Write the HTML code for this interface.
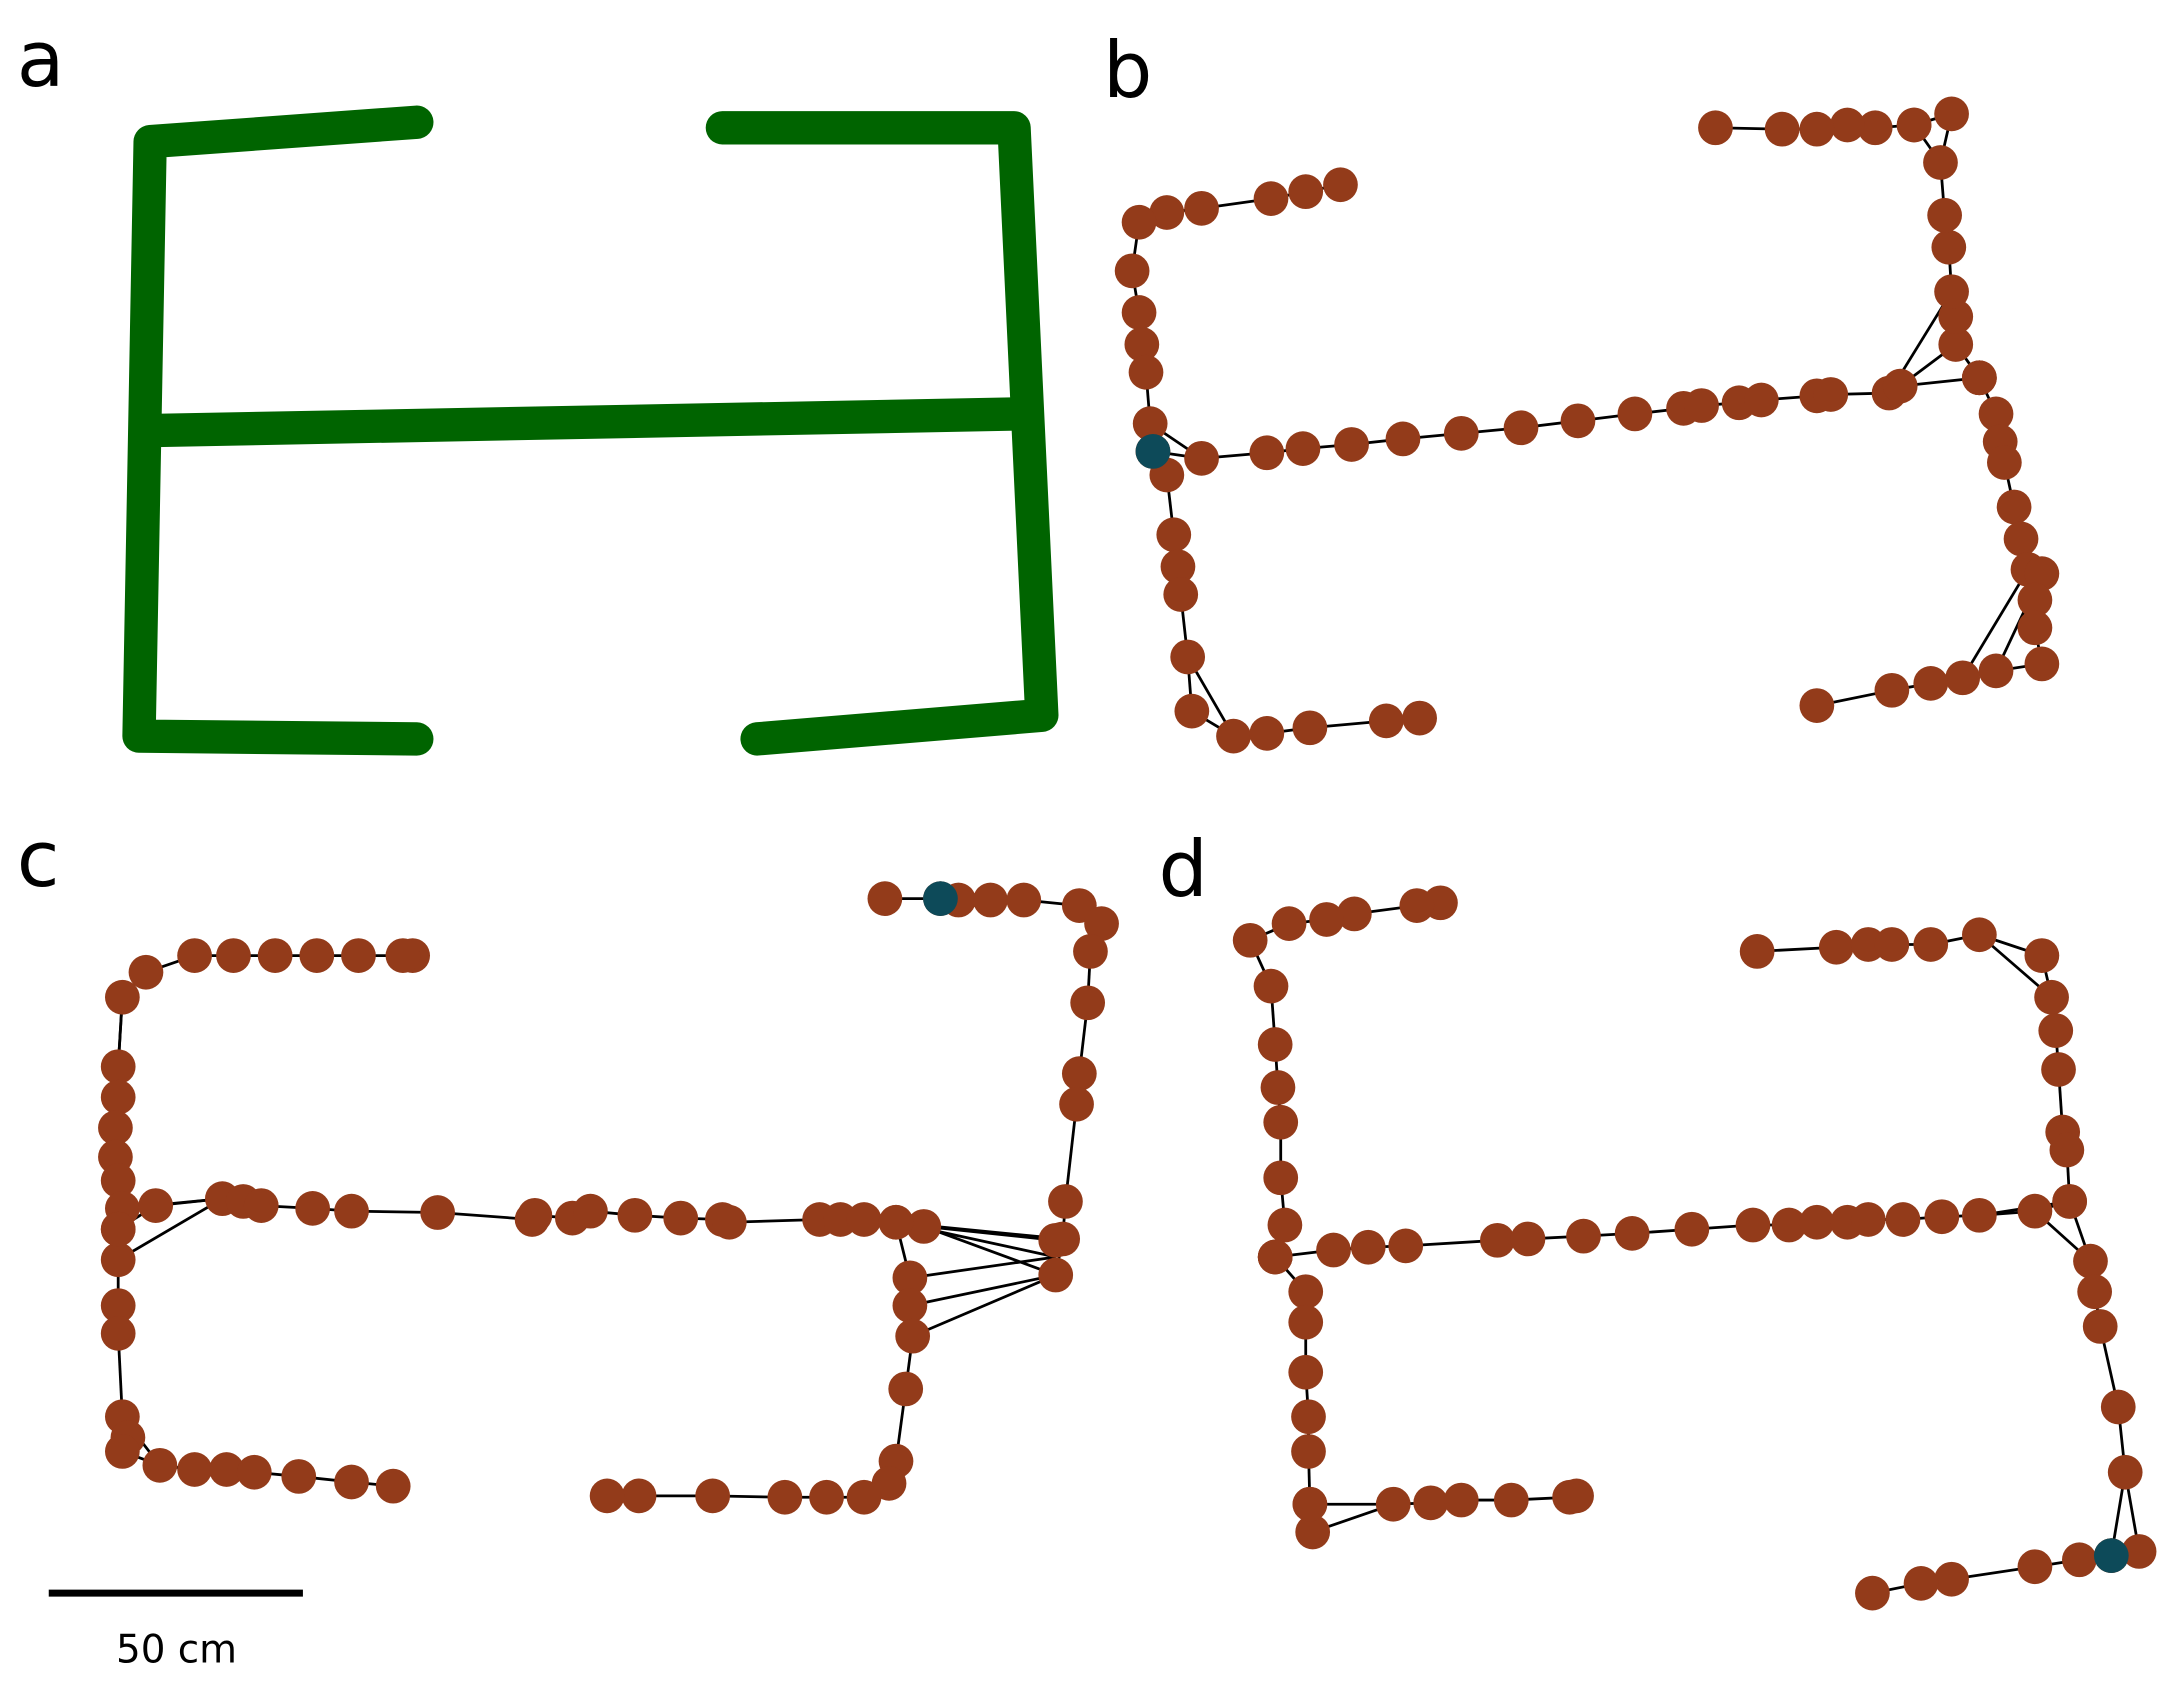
<!DOCTYPE html>
<html><head><meta charset="utf-8"><style>
html,body{margin:0;padding:0;background:#fff}
svg{display:block}
text{font-family:"DejaVu Sans","Liberation Sans",sans-serif}
</style></head><body>
<svg id="fig" width="2167" height="1682" viewBox="0 0 1560 1211" xmlns="http://www.w3.org/2000/svg">
<g id="pa" fill="none" stroke="#006400" stroke-width="24" stroke-linecap="round" stroke-linejoin="round">
<polyline points="300,88 108,102 100,530 300,532"/>
<polyline points="108,310 735,298"/>
<polyline points="520,92 730,92 750,515 545,532"/>
</g>
<g id="edges" stroke="#000" stroke-width="2" fill="none"></g>
<g id="nodes"></g>
<line x1="35" y1="1147" x2="218" y2="1147" stroke="#000" stroke-width="5"/>
<text x="127" y="1197" font-size="28" text-anchor="middle">50 cm</text>
<text x="12" y="62" font-size="56">a</text>
<text x="794" y="70" font-size="56">b</text>
<text x="12" y="638" font-size="56">c</text>
<text x="834" y="645" font-size="56">d</text>
</svg>
<script>
// chains of node positions (reconstructed graph coordinates)
const chainsB = [
 [[965,133],[940,138],[915,143],[865,150],[840,153],[820,160],[815,195],[820,225],[822,248],[825,268],[828,305],[830,325],[865,330],[912,326],[938,323],[973,320],[1010,316],[1052,312],[1095,308],[1136,303],[1177,298],[1212,294],[1225,292],[1252,290],[1268,288],[1308,285],[1318,284],[1360,283],[1368,278],[1425,272]],
 [[1425,272],[1408,248],[1408,228],[1405,210],[1403,178],[1400,155],[1397,117],[1378,90],[1405,82]],
 [[1378,90],[1350,92],[1330,90],[1308,93],[1283,93],[1235,92]],
 [[1425,272],[1437,298],[1440,318],[1443,333],[1450,365],[1455,388],[1460,410],[1470,413],[1465,432],[1465,452],[1470,478],[1437,483],[1413,488],[1390,492],[1362,497],[1308,508]],
 [[830,325],[840,342],[845,385],[848,408],[850,428],[855,473],[858,512],[888,530],[912,528],[943,524],[998,519],[1022,517]]
];
const chainsC = [
 [[297,688],[290,688],[258,688],[228,688],[198,688],[168,688],[140,688],[105,700],[88,718],[85,768],[85,790],[83,812],[83,833],[85,850],[88,870],[85,885],[85,907],[85,940],[85,960],[88,1020],[92,1035],[88,1045],[115,1055],[140,1058],[163,1058],[183,1060],[215,1063],[253,1067],[283,1070]],
 [[85,885],[112,868],[160,863],[175,865],[188,868],[225,870],[253,872],[315,873],[383,878],[385,875],[412,877],[425,872],[457,875],[490,877],[520,878],[525,880],[590,878],[605,878],[622,878],[645,880],[665,883],[760,893]],
 [[637,647],[677,647],[690,648],[713,648],[737,648],[777,652],[793,665],[785,685],[783,722],[777,773],[775,795],[767,865],[765,892],[760,918]],
 [[645,880],[655,920],[655,940],[657,962],[652,1000],[645,1052],[640,1068],[622,1078],[595,1078],[565,1078],[513,1077],[460,1077],[437,1077]]
];
const chainsD = [
 [[1037,650],[1020,652],[975,658],[955,662],[928,665],[900,677],[915,710],[918,752],[920,783],[922,808],[922,848],[925,882],[918,905]],
 [[918,905],[960,900],[985,898],[1012,897],[1078,893],[1100,892],[1140,890],[1175,888],[1218,885],[1262,882],[1288,882],[1308,880],[1330,880],[1345,878],[1370,878],[1398,876],[1425,875],[1465,872],[1490,865]],
 [[918,905],[940,930],[940,952],[940,988],[942,1020],[942,1045],[943,1083],[945,1103]],
 [[943,1083],[1003,1083],[1030,1082],[1052,1080],[1088,1080],[1130,1078],[1135,1077]],
 [[1265,685],[1322,682],[1345,680],[1362,680],[1390,680],[1425,673],[1470,688],[1477,718],[1480,742],[1482,770],[1485,815],[1488,828],[1490,865],[1505,908],[1508,930],[1512,955],[1525,1013],[1530,1060],[1520,1120]],
 [[1540,1117],[1520,1120],[1497,1123],[1465,1128],[1405,1137],[1383,1140],[1348,1147]]
];
const teal = [[830,325],[677,647],[1520,1120]];
const extraEdges = [
 [[828,305],[865,330]],[[1368,278],[1408,248]],[[1360,283],[1405,210]],[[1397,117],[1405,82]],
 [[1470,413],[1437,483]],[[1460,410],[1413,488]],[[855,473],[888,530]],
 [[665,883],[760,918]],[[645,880],[760,905]],[[622,878],[765,892]],[[655,940],[760,918]],[[655,920],[760,905]],[[657,962],[760,918]],
 [[88,870],[160,863]],[[85,907],[160,863]],[[88,1020],[115,1055]],[[88,718],[85,768]],[[760,893],[765,892]],
 [[1465,872],[1505,908]],[[1490,865],[1425,875]],[[945,1103],[1003,1083]],[[1425,673],[1477,718]],[[1540,1117],[1530,1060]]
];
const E = document.getElementById('edges'), N = document.getElementById('nodes');
const NS = 'http://www.w3.org/2000/svg';
function edge(a,b){
 const l=document.createElementNS(NS,'line');
 
 
 l.setAttribute('x1',a[0]);l.setAttribute('y1',a[1]);l.setAttribute('x2',b[0]);l.setAttribute('y2',b[1]);
 E.appendChild(l);
}
function node(p,color){
 const c=document.createElementNS(NS,'circle');
 
 
 c.setAttribute('cx',p[0]);c.setAttribute('cy',p[1]);c.setAttribute('r',12.5);c.setAttribute('fill',color);
 N.appendChild(c);
}
[chainsB,chainsC,chainsD].forEach(chs=>chs.forEach(ch=>{for(let i=1;i<ch.length;i++)edge(ch[i-1],ch[i]);}));
extraEdges.forEach(e=>edge(e[0],e[1]));
[chainsB,chainsC,chainsD].forEach(chs=>chs.forEach(ch=>ch.forEach(p=>node(p,'#933b1a'))));
teal.forEach(p=>node(p,'#0d4a59'));
</script>
</body></html>
